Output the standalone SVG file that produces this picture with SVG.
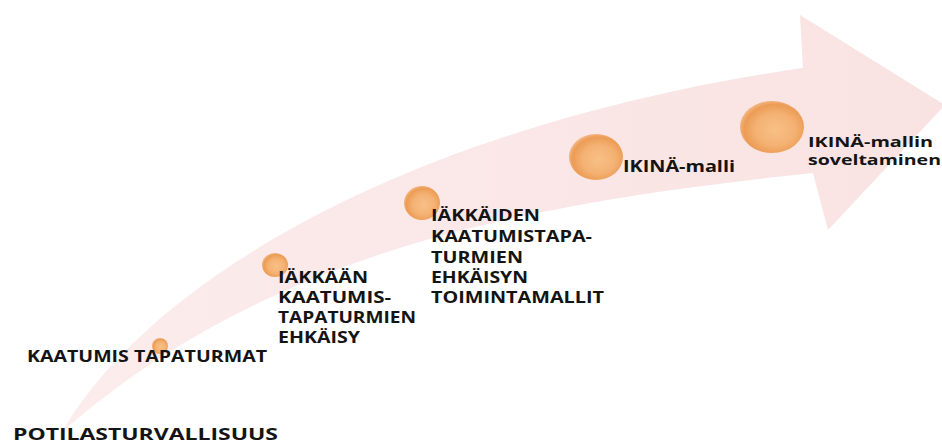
<svg xmlns="http://www.w3.org/2000/svg" width="942" height="445" viewBox="0 0 942 445">
<defs>
<linearGradient id="arrowGrad" x1="0" y1="0" x2="1" y2="0">
<stop offset="0" stop-color="#fcecec"/>
<stop offset="1" stop-color="#f9e2e2"/>
</linearGradient>
<radialGradient id="ball" cx="55%" cy="55%" r="55%">
<stop offset="0" stop-color="#f8c086"/>
<stop offset="0.55" stop-color="#f4b274"/>
<stop offset="0.88" stop-color="#ec9c55"/>
<stop offset="1" stop-color="#f1b27c"/>
</radialGradient>
<style>
.lbl{font-family:"Open Sans","Liberation Sans",sans-serif;font-weight:bold;font-size:16px;fill:#141414}
.sm{font-size:14.5px}
.ball{fill:url(#ball)}
</style>
</defs>
<g id="connectors">
<path id="arrow" d="M62,432 C150,280 410,125 803,68 L800,15 L945,105 L828,230 L813,173 C560,200 280,240 62,432 Z" fill="url(#arrowGrad)"/>
</g>
<g id="node-potilasturvallisuus">
<text class="lbl" x="13" y="440" textLength="265" lengthAdjust="spacingAndGlyphs">POTILASTURVALLISUUS</text>
</g>
<g id="node-kaatumis">
<ellipse class="ball" cx="160" cy="346" rx="8" ry="8"/>
<text class="lbl" x="27" y="362" textLength="240" lengthAdjust="spacingAndGlyphs">KAATUMIS TAPATURMAT</text>
</g>
<g id="node-iakkaan">
<ellipse class="ball" cx="275" cy="265" rx="13" ry="12"/>
<text class="lbl" x="278" y="283" textLength="90" lengthAdjust="spacingAndGlyphs">IÄKKÄÄN</text>
<text class="lbl" x="278" y="303" textLength="113" lengthAdjust="spacingAndGlyphs">KAATUMIS-</text>
<text class="lbl" x="278" y="323" textLength="138" lengthAdjust="spacingAndGlyphs">TAPATURMIEN</text>
<text class="lbl" x="278" y="343" textLength="82" lengthAdjust="spacingAndGlyphs">EHKÄISY</text>
</g>
<g id="node-iakkaiden">
<ellipse class="ball" cx="422" cy="203" rx="18" ry="17"/>
<text class="lbl" x="431" y="221" textLength="109" lengthAdjust="spacingAndGlyphs">IÄKKÄIDEN</text>
<text class="lbl" x="431" y="242" textLength="161" lengthAdjust="spacingAndGlyphs">KAATUMISTAPA-</text>
<text class="lbl" x="431" y="263" textLength="92" lengthAdjust="spacingAndGlyphs">TURMIEN</text>
<text class="lbl" x="431" y="283" textLength="97" lengthAdjust="spacingAndGlyphs">EHKÄISYN</text>
<text class="lbl" x="431" y="303" textLength="173" lengthAdjust="spacingAndGlyphs">TOIMINTAMALLIT</text>
</g>
<g id="node-ikina-malli">
<ellipse class="ball" cx="596" cy="157" rx="27" ry="23"/>
<text class="lbl" x="623" y="172" textLength="112" lengthAdjust="spacingAndGlyphs">IKINÄ-malli</text>
</g>
<g id="node-ikina-soveltaminen">
<ellipse class="ball" cx="772" cy="127" rx="32" ry="26"/>
<text class="lbl sm" x="808" y="147" textLength="125" lengthAdjust="spacingAndGlyphs">IKINÄ-mallin</text>
<text class="lbl sm" x="808" y="165" textLength="133" lengthAdjust="spacingAndGlyphs">soveltaminen</text>
</g>
</svg>
